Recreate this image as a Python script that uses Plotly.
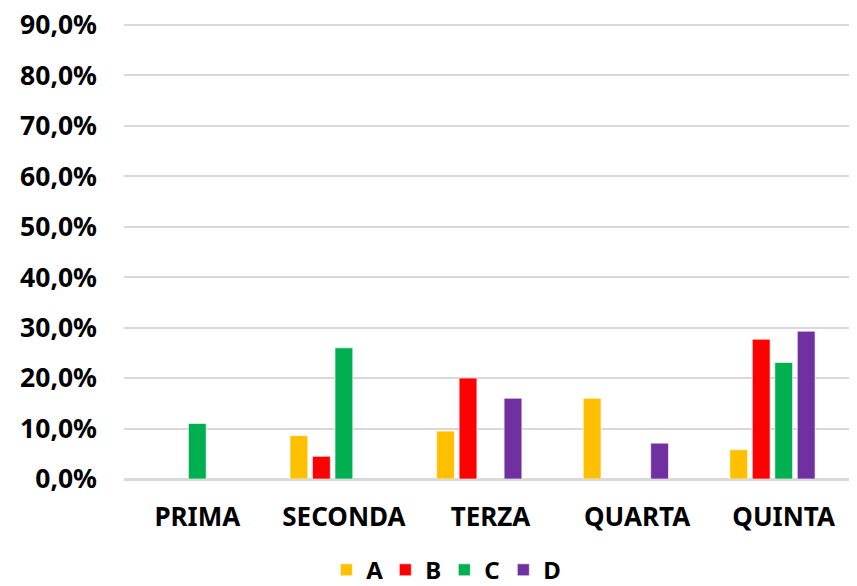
import plotly.graph_objects as go

categories = ["PRIMA", "SECONDA", "TERZA", "QUARTA", "QUINTA"]
series_names = ["A", "B", "C", "D"]
values_A = [None, 0.086, 0.095, 0.160, 0.058]
values_B = [None, 0.045, 0.200, None, 0.277]
values_C = [0.110, 0.260, None, None, 0.231]
values_D = [None, None, 0.160, 0.071, 0.293]
# the source chart keeps a fifth, empty series slot in every group
values_empty = [0, 0, 0, 0, 0]
colors = ["#FFC000", "#FF0000", "#00B050", "#7030A0"]
y_ticks = [0.0, 0.1, 0.2, 0.3, 0.4, 0.5, 0.6, 0.7, 0.8, 0.9]
y_tick_labels = ["0,0%", "10,0%", "20,0%", "30,0%", "40,0%", "50,0%",
                 "60,0%", "70,0%", "80,0%", "90,0%"]

fig = go.Figure()
for name, vals, col in zip(series_names, [values_A, values_B, values_C, values_D], colors):
    fig.add_trace(go.Bar(
        x=categories, y=vals, name=name,
        marker=dict(color=col, line=dict(color="rgba(255,255,255,0.6)", width=1)),
    ))
fig.add_trace(go.Bar(
    x=categories, y=values_empty, name="", showlegend=False, hoverinfo="skip",
    marker=dict(color="rgba(0,0,0,0)", line=dict(width=0)),
))

font_family = "Noto Sans"
fig.update_layout(
    width=849, height=578,
    margin=dict(l=116, r=0, t=15, b=107, autoexpand=False),
    paper_bgcolor="white", plot_bgcolor="white",
    separators=",.",
    barmode="group", bargap=0.233, bargroupgap=0.21,
    font=dict(family=font_family, size=26, color="black", weight="bold"),
    showlegend=True,
    legend=dict(
        orientation="h",
        x=0.437, xanchor="center", y=-0.2, yanchor="middle",
        font=dict(family=font_family, size=24, color="black", weight="bold"),
        itemwidth=30, entrywidth=14, tracegroupgap=0,
    ),
)
fig.update_yaxes(
    range=[0, 0.904], tickmode="array", tickvals=y_ticks, ticktext=y_tick_labels,
    showgrid=True, gridcolor="#D9D9D9", gridwidth=1.5,
    zeroline=True, zerolinecolor="#D9D9D9", zerolinewidth=2,
    ticks="", ticklabelstandoff=26, automargin=False, ticklabeloverflow="allow",
    tickfont=dict(family=font_family, size=26.5, color="black", weight="bold"),
)
fig.update_xaxes(
    showline=True, linecolor="#D9D9D9", linewidth=2,
    ticks="", ticklabelstandoff=14, automargin=False,
    tickfont=dict(family=font_family, size=26, color="black", weight="bold"),
)

fig.write_html("out.html")
